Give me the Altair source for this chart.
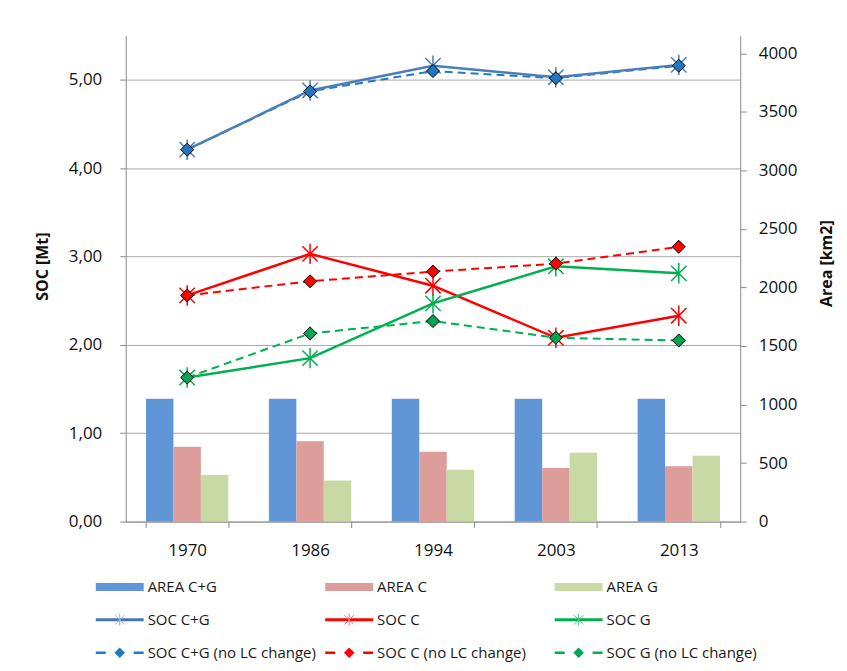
import altair as alt
import pandas as pd

# ---------------- data ----------------
years = ["1970", "1986", "1994", "2003", "2013"]

area_cg = [1050, 1050, 1050, 1050, 1050]
area_c = [640, 685, 596, 458, 472]
area_g = [397, 350, 443, 588, 562]

soc_cg = [4.21, 4.88, 5.16, 5.03, 5.17]
soc_c = [2.56, 3.03, 2.67, 2.08, 2.33]
soc_g = [1.63, 1.85, 2.47, 2.89, 2.81]
soc_cg_nolc = [4.21, 4.87, 5.10, 5.02, 5.16]
soc_c_nolc = [2.56, 2.72, 2.83, 2.92, 3.11]
soc_g_nolc = [1.63, 2.13, 2.27, 2.08, 2.05]

bar_series = ["AREA C+G", "AREA C", "AREA G"]
solid_series = ["SOC C+G", "SOC C", "SOC G"]
dash_series = ["SOC C+G (no LC change)", "SOC C (no LC change)", "SOC G (no LC change)"]

# ---------------- styles ----------------
FONT = "Open Sans"
bar_colors = ["#6096d6", "#dd9d9b", "#c8d9a3"]
solid_colors = ["#4a7ebb", "#ff0000", "#00b050"]
dash_colors = ["#1f7bc9", "#ff0000", "#00b050"]
diamond_fill = ["#1f78c4", "#ff0000", "#00a651"]
legend_star_colors = ["#8db4e2", "#ff6a6a", "#40c880"]
AXIS_GREY = "#8a8a8a"
GRID_GREY = "#a8a8a8"
ASTERISK = "M0,-1L0,1M-0.75,-0.75L0.75,0.75M-0.75,0.75L0.75,-0.75"

# ---------------- tables ----------------
bar_df = pd.DataFrame({
    "year": years * 3,
    "series": [s for s in bar_series for _ in years],
    "area": area_cg + area_c + area_g,
})

line_series = solid_series + dash_series
line_vals = [soc_cg, soc_c, soc_g, soc_cg_nolc, soc_c_nolc, soc_g_nolc]
line_df = pd.DataFrame({
    "year": years * 6,
    "series": [s for s in line_series for _ in years],
    "soc": [v for vals in line_vals for v in vals],
    "kind": ["solid"] * 15 + ["dash"] * 15,
})

W, H = 616, 487

x_enc = alt.X(
    "year:N", sort=years,
    scale=alt.Scale(paddingInner=0.33, paddingOuter=0.165),
    axis=alt.Axis(title=None, tickBand="extent", tickSize=6, labelPadding=15,
                  labelFontSize=17, labelFont=FONT, labelColor="#111",
                  domainColor=AXIS_GREY, tickColor=AXIS_GREY, labelAngle=0),
)

bars = alt.Chart(bar_df).mark_bar().encode(
    x=x_enc,
    xOffset=alt.XOffset("series:N", sort=bar_series,
                        scale=alt.Scale(paddingInner=0, paddingOuter=0)),
    y=alt.Y("area:Q", scale=alt.Scale(domain=[0, 4150], nice=False),
            axis=alt.Axis(orient="right", title="Area [km2]", grid=False, format="d",
                          values=[0, 500, 1000, 1500, 2000, 2500, 3000, 3500, 4000],
                          tickSize=6, labelPadding=12, labelFontSize=17, labelFont=FONT,
                          labelColor="#111", domainColor=AXIS_GREY, tickColor=AXIS_GREY,
                          titleFont=FONT, titleFontSize=16, titleFontWeight="bold",
                          titleColor="#111", titleAngle=270, titleBaseline="middle",
                          titleX=86, titleY=228)),
    color=alt.Color("series:N", sort=bar_series,
                    scale=alt.Scale(domain=bar_series, range=bar_colors), legend=None),
)

y_enc = alt.Y(
    "soc:Q", scale=alt.Scale(domain=[0, 5.5], nice=False),
    axis=alt.Axis(orient="left", title="SOC [Mt]", grid=True, gridColor=GRID_GREY,
                  values=[0, 1, 2, 3, 4, 5],
                  labelExpr="replace(format(datum.value, '.2f'), '.', ',')",
                  tickSize=6, labelPadding=18, labelFontSize=17, labelFont=FONT,
                  labelColor="#111", domainColor=AXIS_GREY, tickColor=AXIS_GREY,
                  titleFont=FONT, titleFontSize=16, titleFontWeight="bold",
                  titleColor="#111", titleAngle=270, titleBaseline="middle",
                  titleX=-83, titleY=231),
)

color_enc = alt.Color("series:N",
                      scale=alt.Scale(domain=line_series, range=solid_colors + dash_colors),
                      legend=None)

base_l = alt.Chart(line_df)

dashed_lines = base_l.mark_line(strokeWidth=2, strokeDash=[8, 5]).encode(
    x=x_enc, y=y_enc, color=color_enc, detail="series:N"
).transform_filter("datum.kind == 'dash'")

solid_lines = base_l.mark_line(strokeWidth=2.5).encode(
    x=x_enc, y=y_enc, color=color_enc, detail="series:N"
).transform_filter("datum.kind == 'solid'")

asterisks = base_l.mark_point(shape=ASTERISK, size=420, filled=False, strokeWidth=1.5,
                              opacity=1).encode(
    x=x_enc, y=y_enc, color=color_enc
).transform_filter("datum.kind == 'solid'")

diamonds = base_l.mark_point(shape="diamond", size=170, filled=True, stroke="black",
                             strokeWidth=1, opacity=1).encode(
    x=x_enc, y=y_enc,
    fill=alt.Fill("series:N", scale=alt.Scale(domain=dash_series, range=diamond_fill),
                  legend=None),
).transform_filter("datum.kind == 'dash'")

soc_layer = alt.layer(dashed_lines, solid_lines, asterisks, diamonds)

main = alt.layer(bars, soc_layer).resolve_scale(
    y="independent", color="independent"
).properties(width=W, height=H)

# ---------------- legend ----------------
leg_labels = bar_series + solid_series + dash_series
leg_df = pd.DataFrame({
    "label": leg_labels,
    "row": [0] * 3 + [1] * 3 + [2] * 3,
    "col": [0, 1, 2] * 3,
})

STEP = 230.0
leg_x = alt.Scale(domain=[30 / STEP, (W + 30) / STEP], nice=False, zero=False)
leg_y = alt.Scale(domain=[-0.5, 2.15], reverse=True, nice=False, zero=False)
LH = 33 * 2.65

leg_base = alt.Chart(leg_df).transform_calculate(
    xs="datum.col",
    xe="datum.col + 48/230",
    xm="datum.col + 24/230",
    xt="datum.col + 52/230",
)

leg_color = alt.Color("label:N",
                      scale=alt.Scale(domain=leg_labels,
                                      range=bar_colors + ["#4a74ac", "#ff0000", "#00b050"]
                                      + dash_colors),
                      legend=None)

leg_rect = leg_base.mark_rule(strokeWidth=8, strokeCap="butt").encode(
    x=alt.X("xs:Q", scale=leg_x, axis=None), x2="xe:Q",
    y=alt.Y("row:Q", scale=leg_y, axis=None), color=leg_color,
).transform_filter("datum.row == 0")

leg_line = leg_base.mark_rule(strokeWidth=3, strokeCap="butt").encode(
    x=alt.X("xs:Q", scale=leg_x, axis=None), x2="xe:Q",
    y=alt.Y("row:Q", scale=leg_y, axis=None), color=leg_color,
).transform_filter("datum.row == 1")

leg_dash = leg_base.mark_rule(strokeWidth=2.5, strokeCap="butt", strokeDash=[10, 28]).encode(
    x=alt.X("xs:Q", scale=leg_x, axis=None), x2="xe:Q",
    y=alt.Y("row:Q", scale=leg_y, axis=None), color=leg_color,
).transform_filter("datum.row == 2")

leg_star = leg_base.mark_point(shape=ASTERISK, size=150, filled=False, strokeWidth=1,
                               opacity=1).encode(
    x=alt.X("xm:Q", scale=leg_x, axis=None),
    y=alt.Y("row:Q", scale=leg_y, axis=None),
    stroke=alt.Stroke("label:N", scale=alt.Scale(domain=solid_series,
                                                 range=legend_star_colors), legend=None),
).transform_filter("datum.row == 1")

leg_diam = leg_base.mark_point(shape="diamond", size=110, filled=True, opacity=1).encode(
    x=alt.X("xm:Q", scale=leg_x, axis=None),
    y=alt.Y("row:Q", scale=leg_y, axis=None),
    fill=alt.Fill("label:N", scale=alt.Scale(domain=dash_series, range=diamond_fill),
                  legend=None),
).transform_filter("datum.row == 2")

leg_text = leg_base.mark_text(align="left", baseline="middle", font=FONT, fontSize=15,
                              color="#1a1a1a").encode(
    x=alt.X("xt:Q", scale=leg_x, axis=None),
    y=alt.Y("row:Q", scale=leg_y, axis=None),
    text="label:N",
)

legend = alt.layer(leg_rect, leg_line, leg_dash, leg_star, leg_diam, leg_text).resolve_scale(
    color="independent"
).properties(width=W, height=LH)

chart = alt.vconcat(main, legend, spacing=12).properties(
    padding={"left": 27, "top": 27, "right": 5, "bottom": 0}
).configure(
    font=FONT, view=alt.ViewConfig(stroke="transparent", strokeWidth=0)
)

chart.save("out.html", embed_options={"renderer": "svg", "actions": False})
